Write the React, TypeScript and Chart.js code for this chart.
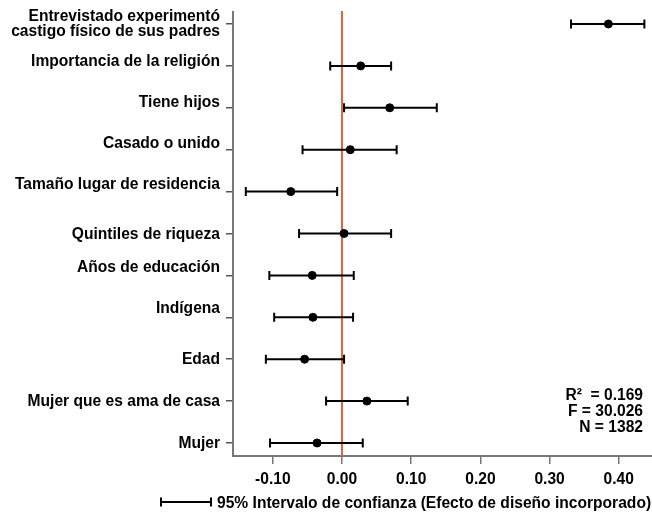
import { useEffect, useRef } from "react";
import { Chart, registerables } from "chart.js";

Chart.register(...registerables);

// ---- data (top to bottom) ----
const categories: (string | string[])[] = [
  ["Entrevistado experimentó", "castigo físico de sus padres"],
  "Importancia de la religión",
  "Tiene hijos",
  "Casado o unido",
  "Tamaño lugar de residencia",
  "Quintiles de riqueza",
  "Años de educación",
  "Indígena",
  "Edad",
  "Mujer que es ama de casa",
  "Mujer",
];
const estimates = [0.385, 0.027, 0.069, 0.012, -0.074, 0.003, -0.043, -0.042, -0.054, 0.036, -0.036];
const lowerCI = [0.331, -0.017, 0.003, -0.057, -0.139, -0.062, -0.105, -0.098, -0.11, -0.023, -0.104];
const upperCI = [0.437, 0.071, 0.137, 0.079, -0.007, 0.071, 0.017, 0.016, 0.003, 0.095, 0.03];
const xTickValues = [-0.1, 0, 0.1, 0.2, 0.3, 0.4];
const statsLines = ["R²  = 0.169", "F = 30.026", "N = 1382"];
const legendText = "95% Intervalo de confianza (Efecto de diseño incorporado)";

// ---- layout / style ----
const FONT = '"Liberation Sans", Arial, Helvetica, sans-serif';
const FONT_SIZE = 15.6;
const LABEL_FONT = `bold ${FONT_SIZE}px ${FONT}`;
const labelBaselineShift = [-3, 0, -1, -2, -3, 6, -3, -4, 5, 5, 5];

const n = categories.length;
const yValue = (i: number) => n - i;

const overlayPlugin = {
  id: "overlay",
  beforeDatasetsDraw(chart: any) {
    const { ctx, chartArea, scales } = chart;
    const xs = scales.x;
    const ys = scales.y;
    ctx.save();
    const x0 = xs.getPixelForValue(0);
    ctx.strokeStyle = "#e8603c";
    ctx.lineWidth = 2;
    ctx.beginPath();
    ctx.moveTo(x0, chartArea.top - 1);
    ctx.lineTo(x0, chartArea.bottom);
    ctx.stroke();
    ctx.strokeStyle = "#000";
    ctx.lineWidth = 2;
    for (let i = 0; i < n; i++) {
      const y = ys.getPixelForValue(yValue(i));
      const xl = xs.getPixelForValue(lowerCI[i]);
      const xh = xs.getPixelForValue(upperCI[i]);
      ctx.beginPath();
      ctx.moveTo(xl, y);
      ctx.lineTo(xh, y);
      ctx.moveTo(xl, y - 4.5);
      ctx.lineTo(xl, y + 4.5);
      ctx.moveTo(xh, y - 4.5);
      ctx.lineTo(xh, y + 4.5);
      ctx.stroke();
    }
    ctx.restore();
  },
  afterDraw(chart: any) {
    const { ctx, chartArea, scales } = chart;
    const ys = scales.y;
    ctx.save();
    ctx.fillStyle = "#000";
    ctx.font = LABEL_FONT;
    ctx.textAlign = "right";
    ctx.textBaseline = "alphabetic";
    const lx = chartArea.left - 13;
    for (let i = 0; i < n; i++) {
      const y = ys.getPixelForValue(yValue(i));
      const lab = categories[i];
      if (Array.isArray(lab)) {
        ctx.fillText(lab[0], lx, y - 3);
        ctx.fillText(lab[1], lx, y + 12);
      } else {
        ctx.fillText(lab, lx, y + labelBaselineShift[i]);
      }
    }
    const sx = chartArea.right - 9;
    statsLines.forEach((s, k) => {
      ctx.fillText(s, sx, 400 + k * 16);
    });
    const ly = 502;
    ctx.strokeStyle = "#000";
    ctx.lineWidth = 2;
    ctx.beginPath();
    ctx.moveTo(161, ly);
    ctx.lineTo(211, ly);
    ctx.moveTo(161, ly - 4.5);
    ctx.lineTo(161, ly + 4.5);
    ctx.moveTo(211, ly - 4.5);
    ctx.lineTo(211, ly + 4.5);
    ctx.stroke();
    ctx.textAlign = "left";
    ctx.fillText(legendText, 217, ly + 5.5);
    ctx.restore();
  },
};

export default function App() {
  const ref = useRef<HTMLCanvasElement | null>(null);
  useEffect(() => {
    if (!ref.current) return;
    const chart = new Chart(ref.current, {
      type: "scatter",
      data: {
        datasets: [
          {
            data: estimates.map((v, i) => ({ x: v, y: yValue(i) })),
            backgroundColor: "#000",
            borderColor: "#000",
            pointRadius: 4,
            pointHoverRadius: 4,
          },
        ],
      },
      options: {
        animation: false,
        responsive: false,
        maintainAspectRatio: false,
        layout: { autoPadding: false, padding: { top: 12, right: 0, left: 0, bottom: 0 } },
        plugins: { legend: { display: false }, tooltip: { enabled: false } },
        scales: {
          x: {
            type: "linear",
            min: -0.1575,
            max: 0.448,
            afterBuildTicks: (s: any) => {
              s.ticks = xTickValues.map((v) => ({ value: v }));
            },
            afterFit: (s: any) => {
              s.height = 57;
              s.paddingRight = 0;
              s.paddingLeft = 0;
            },
            grid: { drawOnChartArea: false, drawTicks: true, tickLength: 8, color: "#777", lineWidth: 1.5 },
            border: { display: true, color: "#777", width: 2 },
            ticks: {
              autoSkip: false,
              maxRotation: 0,
              padding: 6,
              color: "#000",
              font: { family: FONT, size: FONT_SIZE, weight: "bold" },
              callback: (v: any) => Number(v).toFixed(2),
            },
          },
          y: {
            type: "linear",
            min: 0.69,
            max: 11.286,
            afterBuildTicks: (s: any) => {
              s.ticks = categories.map((_, i) => ({ value: yValue(i) }));
            },
            afterFit: (s: any) => {
              s.width = 233;
            },
            grid: { drawOnChartArea: false, drawTicks: true, tickLength: 7, color: "#555", lineWidth: 1.5 },
            border: { display: true, color: "#777", width: 2 },
            ticks: { display: false },
          },
        },
      },
      plugins: [overlayPlugin],
    });
    return () => chart.destroy();
  }, []);
  return (
    <div style={{ position: "fixed", left: 0, top: 0, width: 652, height: 513, background: "#fff" }}>
      <canvas ref={ref} width={652} height={513} style={{ display: "block" }} />
    </div>
  );
}
